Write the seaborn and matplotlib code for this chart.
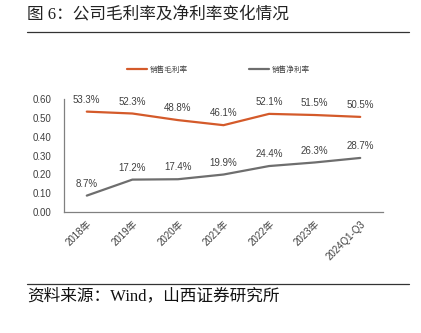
import matplotlib
matplotlib.use("Agg")
import matplotlib.pyplot as plt
from matplotlib.lines import Line2D
import seaborn as sns
import pandas as pd

categories = ["2018年", "2019年", "2020年", "2021年", "2022年", "2023年", "2024Q1-Q3"]
gross_margin = [0.533, 0.523, 0.488, 0.461, 0.521, 0.515, 0.505]
net_margin = [0.087, 0.172, 0.174, 0.199, 0.244, 0.263, 0.287]
series_names = ["销售毛利率", "销售净利率"]
yticks = [0.0, 0.1, 0.2, 0.3, 0.4, 0.5, 0.6]
title = "图 6：公司毛利率及净利率变化情况"
source = "资料来源：Wind，山西证券研究所"

sns.set_theme(style="white")
plt.rcParams["font.family"] = ["Liberation Sans", "Noto Sans CJK SC", "DejaVu Sans"]

colors = {series_names[0]: "#D45A2A", series_names[1]: "#6E6E6E"}

df = pd.DataFrame({
    "cat": categories * 2,
    "x": list(range(len(categories))) * 2,
    "val": gross_margin + net_margin,
    "series": [series_names[0]] * len(categories) + [series_names[1]] * len(categories),
})

W, H = 421, 333
fig = plt.figure(figsize=(W / 100, H / 100), dpi=100)
ax = fig.add_axes([64 / W, 1 - 212 / H, (383 - 64) / W, (212 - 99) / H])

sns.lineplot(data=df, x="x", y="val", hue="series", palette=colors, ax=ax,
             linewidth=1.6, legend=False, sort=False)

for name, vals in zip(series_names, [gross_margin, net_margin]):
    for i, v in enumerate(vals):
        ax.annotate(f"{v*100:.1f}%", (i, v), xytext=(0, 8.6), textcoords="offset points",
                    ha="center", va="center", fontsize=7, color="#404040")

ax.set_xlim(-0.5, len(categories) - 0.5)
ax.set_ylim(0, 0.6)
ax.set_yticks(yticks)
ax.set_yticklabels([f"{t:.2f}" for t in yticks], fontsize=7, color="#404040")
ax.set_xticks(range(len(categories)))
ax.set_xticklabels(categories, rotation=45, ha="right", rotation_mode="anchor",
                   fontsize=7, color="#404040")
ax.set_xticks([i - 0.5 for i in range(len(categories) + 1)], minor=True)
ax.tick_params(axis="x", which="major", length=0, pad=5)
ax.tick_params(axis="x", which="minor", length=3, direction="in", color="#808080", width=0.8)
ax.tick_params(axis="y", length=3, direction="in", color="#808080", width=0.8, pad=9)
ax.set_xlabel("")
ax.set_ylabel("")
for s in ["top", "right"]:
    ax.spines[s].set_visible(False)
for s in ["left", "bottom"]:
    ax.spines[s].set_color("#808080")
    ax.spines[s].set_linewidth(0.9)

handles = [Line2D([], [], color=colors[n], linewidth=1.6) for n in series_names]
fig.legend(handles, series_names, loc="center left", bbox_to_anchor=(127 / W, 1 - 70 / H),
           ncol=2, frameon=False, fontsize=5.5, handlelength=2.6, handletextpad=0.4,
           columnspacing=8.0, borderpad=0, borderaxespad=0, labelcolor="#404040")

serif = ["Liberation Serif", "Noto Sans CJK SC"]
fig.text(27 / W, 1 - 15 / H, title, fontsize=12, family=serif, color="#222222",
         ha="left", va="center")
fig.text(27 / W, 1 - 296 / H, source, fontsize=12, family=serif, color="#111111",
         ha="left", va="center")
fig.add_artist(Line2D([27 / W, 409 / W], [1 - 32 / H, 1 - 32 / H], color="#333333", linewidth=0.9))
fig.add_artist(Line2D([27 / W, 409 / W], [1 - 284 / H, 1 - 284 / H], color="#333333", linewidth=0.9))

fig.savefig("out.png", dpi=100, facecolor="white")
